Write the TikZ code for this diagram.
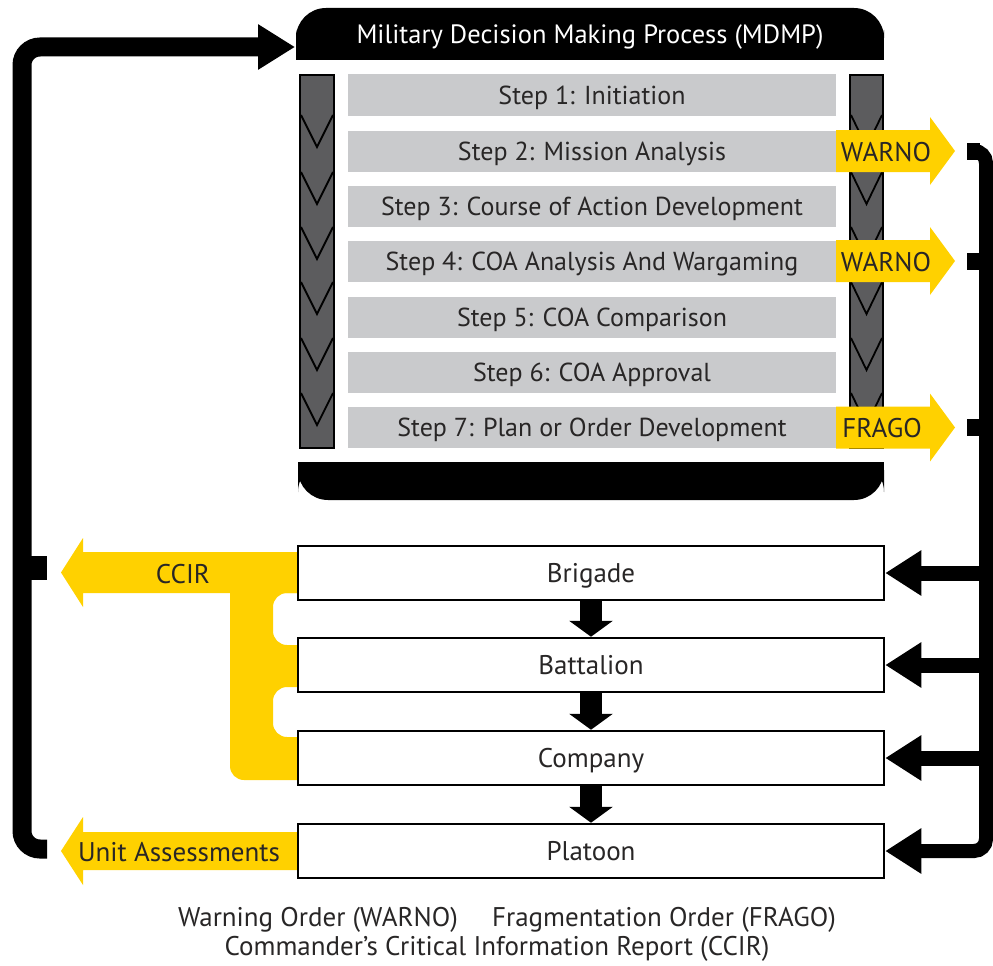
\documentclass[tikz,border=0pt]{standalone}
\usepackage{fontspec}
\setmainfont{PT Sans}
\usetikzlibrary{arrows.meta}
\definecolor{yel}{RGB}{255,209,0}
\definecolor{stepgray}{RGB}{201,202,204}
\definecolor{colgray}{RGB}{92,92,94}
\definecolor{txt}{RGB}{40,38,38}
\tikzset{
  capcenter/.style={text height=#1, text depth=0pt},
  stepbar/.style={fill=stepgray, minimum width=488pt, minimum height=41pt, inner sep=0pt, text=txt, font=\fontsize{26}{28}\selectfont, capcenter=18.2pt},
  levelbox/.style={draw=black, line width=2.5pt, fill=white, minimum width=586pt, minimum height=54pt, inner sep=0pt, text=txt, font=\fontsize{27}{29}\selectfont, capcenter=18.9pt},
  column/.style={draw=black, line width=2pt, fill=colgray},
  chev/.style={draw=black, line width=1.8pt},
  yarrowlbl/.style={text=txt, font=\fontsize{27}{29}\selectfont, inner sep=0pt, capcenter=18.9pt},
  legend/.style={text=txt, font=\fontsize{27}{29}\selectfont, inner sep=0pt, capcenter=18.9pt},
  blackconn/.style={draw=black, line cap=butt},
}
\begin{document}
\begin{tikzpicture}[x=1pt,y=-1pt]
\useasboundingbox (0,0) rectangle (993,966);
% ---- title bar
\fill[black] (296,34) rectangle (884,60);
\node[fill=black, rounded corners=30pt, minimum width=588pt, minimum height=52pt, inner sep=0pt,
      text=white, font=\fontsize{26.5}{28}\selectfont, capcenter=18.5pt] (title) at (590,34) {Military Decision Making Process (MDMP)};
% ---- bottom bar
\fill[black] (298,462) rectangle (884,481);
\node[fill=black, rounded corners=30pt, minimum width=586pt, minimum height=38pt, inner sep=0pt] (bottombar) at (591,481) {};
% ---- columns
\draw[column] (300,75) rectangle (334,448);
\draw[column] (850,75) rectangle (883,448);
\foreach \t in {115,172,227,282,338,393}{
  \draw[chev] (301,\t) -- (317,\t+32) -- (333,\t);
  \draw[chev] (851,\t) -- (866.5,\t+32) -- (882,\t);
}
% ---- steps
\node[stepbar] (s1) at (592,95) {Step 1: Initiation};
\node[stepbar] (s2) at (592,151) {Step 2: Mission Analysis};
\node[stepbar] (s3) at (592,206) {Step 3: Course of Action Development};
\node[stepbar] (s4) at (592,261) {Step 4: COA Analysis And Wargaming};
\node[stepbar] (s5) at (592,317) {Step 5: COA Comparison};
\node[stepbar] (s6) at (592,372) {Step 6: COA Approval};
\node[stepbar] (s7) at (592,427.5) {Step 7: Plan or Order Development};
% ---- yellow order arrows
\foreach \c in {151,261,427.5}{
  \fill[yel] (836,\c-21) -- (930,\c-21) -- (930,\c-34) -- (955,\c) -- (930,\c+34) -- (930,\c+21) -- (836,\c+21) -- cycle;
}
\node[yarrowlbl] (w1) at (886,152) {WARNO};
\node[yarrowlbl] (w2) at (886,262) {WARNO};
\node[yarrowlbl] (f1) at (882,428.5) {FRAGO};
% ---- yellow CCIR shape
\fill[yel, rounded corners=14pt] (320,552) -- (230,552) -- (230,780) -- (320,780) -- (320,737) -- (273,737) -- (273,687) -- (320,687) -- (320,645) -- (273,645) -- (273,593) -- (320,593) -- cycle;
\fill[yel] (300,552) -- (83,552) -- (83,538) -- (61,572.5) -- (83,607) -- (83,593) -- (300,593) -- cycle;
\fill[yel] (300,832) -- (83,832) -- (83,817) -- (61,851) -- (83,885) -- (83,870) -- (300,870) -- cycle;
\node[yarrowlbl] (ccir) at (183,574) {CCIR};
\node[yarrowlbl] (ua) at (179,852) {Unit Assessments};
% ---- level boxes
\node[levelbox] (brigade) at (591,573) {Brigade};
\node[levelbox] (battalion) at (591,665) {Battalion};
\node[levelbox] (company) at (591,758) {Company};
\node[levelbox] (platoon) at (591,851) {Platoon};
% ---- down arrows
\draw[blackconn, line width=22pt, -{Triangle[width=43pt,length=16pt]}] (brigade.south) -- (battalion.north);
\draw[blackconn, line width=22pt, -{Triangle[width=43pt,length=16pt]}] (battalion.south) -- (company.north);
\draw[blackconn, line width=22pt, -{Triangle[width=43pt,length=16pt]}] (company.south) -- (platoon.north);
% ---- right bracket
\coordinate (rtop) at (967,151);
\draw[blackconn, line width=14pt, rounded corners=12pt, -{Triangle[width=43pt,length=36pt]}] (rtop) -- (986,151) -- (986,851) -- (platoon.east);
\draw[blackconn, line width=17pt] (967,151) -- (980,151);
\draw[blackconn, line width=17pt] (967,261) -- (986,261);
\draw[blackconn, line width=17pt] (967,427.5) -- (986,427.5);
\draw[blackconn, line width=15pt, -{Triangle[width=43pt,length=36pt]}] (986,573) -- (brigade.east);
\draw[blackconn, line width=15pt, -{Triangle[width=43pt,length=36pt]}] (986,665) -- (battalion.east);
\draw[blackconn, line width=15pt, -{Triangle[width=43pt,length=36pt]}] (986,758) -- (company.east);
% ---- left bracket
\coordinate (lbot) at (47,849);
\coordinate (titlein) at (295,47);
\draw[blackconn, line width=19pt, rounded corners=18pt, -{Triangle[width=43pt,length=37pt]}] (lbot) -- (22,849) -- (22,47) -- (titlein);
\draw[blackconn, line width=24pt] (22,568) -- (47,568);
% ---- legend
\node[legend] (lg1) at (318,917) {Warning Order (WARNO)};
\node[legend] (lg2) at (664,917) {Fragmentation Order (FRAGO)};
\node[legend] (lg3) at (497,946) {Commander’s Critical Information Report (CCIR)};
\end{tikzpicture}
\end{document}
